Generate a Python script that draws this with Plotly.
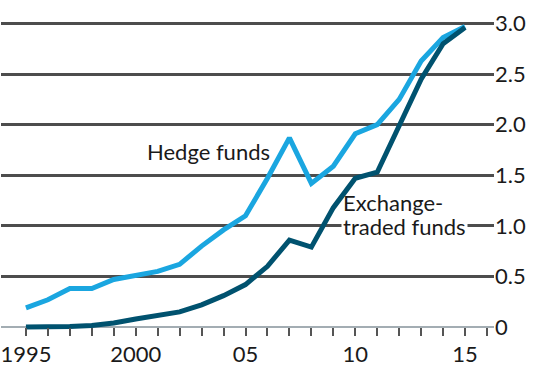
import plotly.graph_objects as go

years = list(range(1995, 2016))
hedge_funds = [0.19, 0.27, 0.38, 0.38, 0.47, 0.51, 0.55, 0.62, 0.80, 0.96, 1.10,
               1.47, 1.87, 1.42, 1.59, 1.91, 2.00, 2.25, 2.63, 2.86, 2.97]
etfs = [0.00, 0.00, 0.005, 0.015, 0.04, 0.08, 0.11, 0.15, 0.22, 0.31, 0.42,
        0.60, 0.86, 0.79, 1.18, 1.47, 1.53, 1.98, 2.45, 2.80, 2.96]

x_tickvals = list(range(1995, 2017))
x_ticktext = ["1995" if y == 1995 else "2000" if y == 2000 else
              ("%02d" % (y % 100) if y % 5 == 0 else "") for y in x_tickvals]
y_tickvals = [0, 0.5, 1.0, 1.5, 2.0, 2.5, 3.0]
y_ticktext = ["0", "0.5", "1.0", "1.5", "2.0", "2.5", "3.0"]

FONT = "Lato"
TXT = "#1a1a1a"

fig = go.Figure()
fig.add_trace(go.Scatter(x=years, y=hedge_funds, mode="lines",
                         line=dict(color="#1aa6e0", width=5), hoverinfo="skip"))
fig.add_trace(go.Scatter(x=years, y=etfs, mode="lines",
                         line=dict(color="#00526f", width=5), hoverinfo="skip"))

fig.add_annotation(x=2006.2, y=1.73, text="Hedge funds", showarrow=False,
                   xanchor="right", yanchor="middle",
                   font=dict(family=FONT, size=22, color=TXT))
fig.add_annotation(x=2009.36, y=0.99, text="traded funds", showarrow=False,
                   xanchor="left", yanchor="middle", bgcolor="white", borderpad=1,
                   font=dict(family=FONT, size=22, color=TXT))
fig.add_annotation(x=2009.36, y=1.23, text="Exchange-", showarrow=False,
                   xanchor="left", yanchor="middle",
                   font=dict(family=FONT, size=22, color=TXT))

fig.update_layout(
    width=533, height=367,
    margin=dict(l=0, r=39, t=0, b=34),
    paper_bgcolor="white", plot_bgcolor="white",
    showlegend=False,
    font=dict(family=FONT, size=22, color=TXT),
    xaxis=dict(range=[1993.864, 2016.318], tickmode="array",
               tickvals=x_tickvals, ticktext=x_ticktext,
               ticks="outside", ticklen=8, tickwidth=1.5, tickcolor="#555555",
               showgrid=False, zeroline=False, showline=False,
               anchor="free", position=4 / 333, ticklabeloverflow="allow",
               tickfont=dict(family=FONT, size=22, color=TXT), fixedrange=True),
    yaxis=dict(range=[-0.039, 3.232], side="right", tickmode="array",
               tickvals=y_tickvals, ticktext=y_ticktext,
               showgrid=True, gridcolor="#4d4d4d", gridwidth=2.5,
               zeroline=True, zerolinecolor="#a3adb3", zerolinewidth=1.5,
               ticks="", showline=False, automargin=False,
               ticklabeloverflow="allow",
               tickfont=dict(family=FONT, size=22, color=TXT), fixedrange=True),
)

fig.write_html("out.html", config={"displayModeBar": False},
               post_script="document.body.style.margin='0';")
